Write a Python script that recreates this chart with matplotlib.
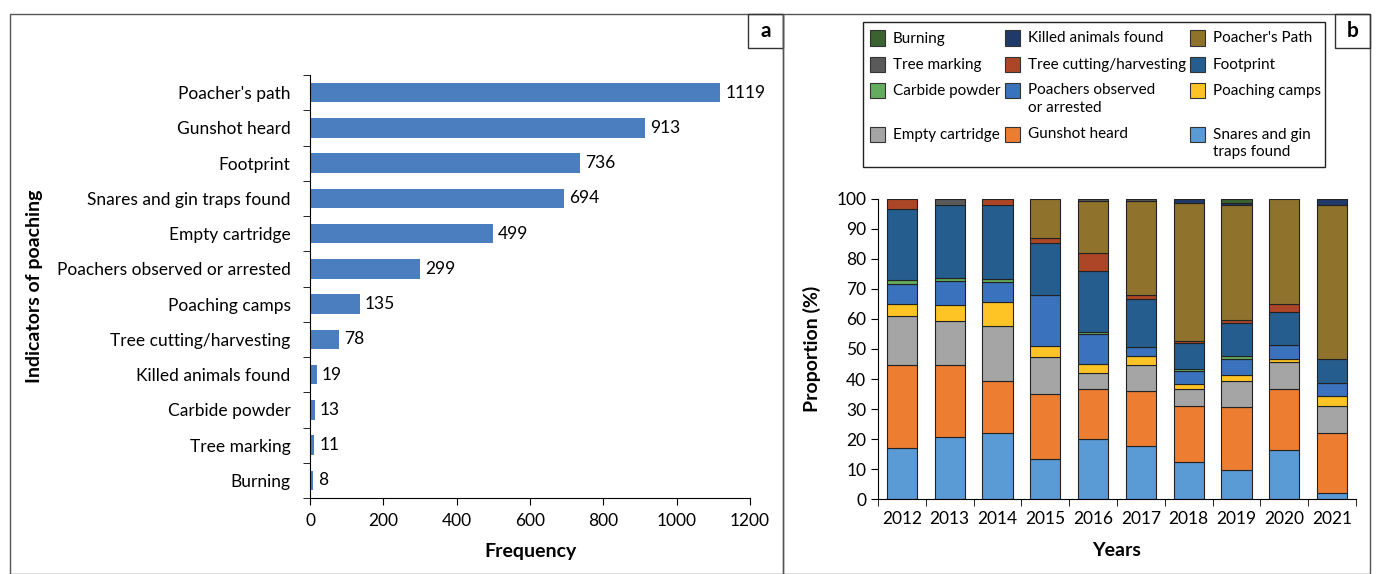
import matplotlib.pyplot as plt
import numpy as np
from matplotlib.patches import Rectangle

plt.rcParams['font.family'] = ['Lato', 'DejaVu Sans']

# panel a: total counts per indicator
indicators = ["Poacher's path", "Gunshot heard", "Footprint", "Snares and gin traps found",
              "Empty cartridge", "Poachers observed or arrested", "Poaching camps",
              "Tree cutting/harvesting", "Killed animals found", "Carbide powder",
              "Tree marking", "Burning"]
counts = [1119, 913, 736, 694, 499, 299, 135, 78, 19, 13, 11, 8]

# panel b: yearly proportions (%), stacked bottom to top
years = ["2012", "2013", "2014", "2015", "2016", "2017", "2018", "2019", "2020", "2021"]
snares = [17.1, 20.6, 22.1, 13.3, 19.9, 17.6, 12.3, 9.7, 16.2, 1.9]
gunshot = [27.5, 24.0, 17.2, 21.7, 16.8, 18.4, 18.8, 20.9, 20.6, 20.0]
empty_cart = [16.5, 14.6, 18.4, 12.4, 5.4, 8.8, 5.5, 8.7, 8.9, 9.2]
camps = [3.9, 5.6, 8.1, 3.7, 2.9, 3.0, 1.7, 2.0, 1.0, 3.2]
observed = [6.8, 7.8, 6.4, 16.8, 10.0, 2.8, 4.3, 5.3, 4.6, 4.3]
carbide = [1.2, 1.0, 1.0, 0, 0.8, 0, 0.6, 1.1, 0, 0]
footprint = [23.7, 24.5, 24.9, 17.3, 20.2, 16.1, 8.7, 10.9, 10.9, 8.0]
cutting = [3.3, 0, 1.9, 1.9, 5.9, 1.2, 0.9, 1.0, 2.7, 0]
path = [0, 0, 0, 12.9, 17.4, 31.4, 46.0, 38.3, 35.1, 51.5]
marking = [0, 1.9, 0, 0, 0.7, 0.7, 0, 0, 0, 0]
killed = [0, 0, 0, 0, 0, 0, 1.2, 0.9, 0, 1.9]
burning = [0, 0, 0, 0, 0, 0, 0, 1.2, 0, 0]

series = [
    ("Snares and gin\ntraps found", snares, "#5b9bd5"),
    ("Gunshot heard", gunshot, "#ed7d31"),
    ("Empty cartridge", empty_cart, "#a5a5a5"),
    ("Poaching camps", camps, "#fec425"),
    ("Poachers observed\nor arrested", observed, "#3b72bd"),
    ("Carbide powder", carbide, "#64ad5e"),
    ("Footprint", footprint, "#255e8e"),
    ("Tree cutting/harvesting", cutting, "#ad4626"),
    ("Poacher's Path", path, "#8f722c"),
    ("Tree marking", marking, "#5a5a5a"),
    ("Killed animals found", killed, "#1f3a68"),
    ("Burning", burning, "#3a632f"),
]

# legend grid: rows of three entries, Excel-style
legend_rows = [
    ["Burning", "Killed animals found", "Poacher's Path"],
    ["Tree marking", "Tree cutting/harvesting", "Footprint"],
    ["Carbide powder", "Poachers observed\nor arrested", "Poaching camps"],
    ["Empty cartridge", "Gunshot heard", "Snares and gin\ntraps found"],
]

fig = plt.figure(figsize=(13.76, 5.74), dpi=100)
W, H = 1376, 574

def fx(px):
    return px / W

def fy(py):
    return 1 - py / H

# panel frames and corner labels
for x0, x1, lab in [(10, 783, "a"), (783, 1370, "b")]:
    fig.patches.append(Rectangle((fx(x0), fy(574)), fx(x1 - x0), (574 - 14) / H,
                                 transform=fig.transFigure, fill=False,
                                 edgecolor="#555555", lw=1.0))
    fig.patches.append(Rectangle((fx(x1 - 35), fy(48)), fx(35), 34 / H,
                                 transform=fig.transFigure, fill=False,
                                 edgecolor="#333333", lw=1.0))
    fig.text(fx(x1 - 17.5), fy(31), lab, ha="center", va="center",
             fontsize=15, fontweight="bold")

# ---- panel a ----
ax1 = fig.add_axes([fx(310), fy(498), fx(440), 423 / H])
ypos = np.arange(len(indicators))
ax1.barh(ypos, counts, height=0.55, color="#4a7ebe")
for y, c in zip(ypos, counts):
    ax1.text(c + 14, y, str(c), va="center", ha="left", fontsize=12.5)
ax1.set_xlim(0, 1200)
ax1.set_ylim(len(indicators) - 0.5, -0.5)
ax1.set_xticks(range(0, 1201, 200))
ax1.set_yticks(ypos)
ax1.set_yticklabels(indicators, fontsize=12.5)
ax1.set_yticks(np.arange(-0.5, len(indicators)), minor=True)
ax1.tick_params(axis="y", which="major", length=0, pad=14)
ax1.tick_params(axis="y", which="minor", length=5, direction="out")
ax1.tick_params(axis="x", labelsize=12.5, length=5, direction="out", pad=6)
for s in ["top", "right"]:
    ax1.spines[s].set_visible(False)
ax1.set_xlabel("Frequency", fontsize=14, fontweight="bold")
ax1.xaxis.set_label_coords(0.5, (498 - 543) / 423)
ax1.set_ylabel("Indicators of poaching", fontsize=14, fontweight="bold", va="center")
ax1.yaxis.set_label_coords((35 - 310) / 440, 0.5)

# ---- panel b ----
ax2 = fig.add_axes([fx(878), fy(499), fx(478), 300 / H])
x = np.arange(len(years))
bottom = np.zeros(len(years))
colors = {}
for label, vals, col in series:
    vals = np.array(vals, dtype=float)
    lw = np.where(vals > 0, 0.8, 0)
    ax2.bar(x, vals, width=0.63, bottom=bottom, color=col,
            edgecolor="#222222", linewidth=lw)
    colors[label] = col
    bottom += vals
ax2.set_xlim(-0.5, len(years) - 0.5)
ax2.set_ylim(0, 100)
ax2.set_yticks(range(0, 101, 10))
ax2.set_xticks(x)
ax2.set_xticklabels(years)
ax2.set_xticks(np.arange(-0.5, len(years)), minor=True)
ax2.tick_params(axis="x", which="major", length=0, labelsize=12.5, pad=9)
ax2.tick_params(axis="x", which="minor", length=5, direction="out")
ax2.tick_params(axis="y", labelsize=12.5, length=5, direction="out")
for s in ["top", "right"]:
    ax2.spines[s].set_visible(False)
ax2.set_xlabel("Years", fontsize=14, fontweight="bold")
ax2.xaxis.set_label_coords(0.5, (499 - 542) / 300)
ax2.set_ylabel("Proportion (%)", fontsize=14, fontweight="bold", va="center")
ax2.yaxis.set_label_coords((812 - 878) / 478, 0.5)

# legend box drawn as a fixed grid so rows line up across columns
fig.patches.append(Rectangle((fx(863), fy(167)), fx(462), 145 / H,
                             transform=fig.transFigure, facecolor="white",
                             edgecolor="#222222", lw=1.0))
col_x = [870, 1005, 1190]
row_y = [38, 64, 90, 134]
for r, row in enumerate(legend_rows):
    for c, label in enumerate(row):
        hx, hy = col_x[c], row_y[r]
        fig.patches.append(Rectangle((fx(hx), fy(hy + 7.5)), fx(15), 15 / H,
                                     transform=fig.transFigure,
                                     facecolor=colors[label], edgecolor="#333333", lw=0.8))
        fig.text(fx(hx + 23), fy(hy - 6.5), label, ha="left", va="top",
                 fontsize=11, linespacing=1.35)

fig.savefig("out.png", dpi=100)
